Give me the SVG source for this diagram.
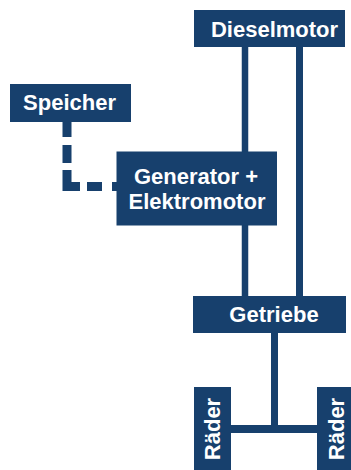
<svg xmlns="http://www.w3.org/2000/svg" width="351" height="470" viewBox="0 0 351 470">
  <style>
    .box { fill: #17406d; }
    .lbl { font-family: "Liberation Sans", Arial, sans-serif; font-weight: bold; font-size: 22px; fill: #ffffff; text-anchor: middle; }
    .shaft { stroke: #17406d; fill: none; stroke-linecap: butt; }
  </style>
  <rect width="351" height="470" fill="#ffffff"/>

  <!-- connectors -->
  <g id="connectors">
    <line class="shaft" x1="245" y1="46" x2="245" y2="297" stroke-width="6.5"/>
    <line class="shaft" x1="299.5" y1="46" x2="299.5" y2="297" stroke-width="7"/>
    <line class="shaft" x1="274.5" y1="332" x2="274.5" y2="433" stroke-width="7"/>
    <line class="shaft" x1="230" y1="429" x2="318" y2="429" stroke-width="8"/>
    <path class="shaft" d="M67,122 V186.5 H117" stroke-width="9" stroke-linejoin="miter"
          stroke-dasharray="15 8 18 7 29.5 7 15 10 5"/>
  </g>

  <g id="dieselmotor">
    <rect class="box" x="194" y="10" width="151" height="37"/>
    <text class="lbl" x="274.5" y="36.5">Dieselmotor</text>
  </g>

  <g id="speicher">
    <rect class="box" x="10" y="84" width="121" height="38"/>
    <text class="lbl" x="69.5" y="110">Speicher</text>
  </g>

  <g id="generator">
    <rect class="box" x="116.5" y="151.5" width="160.5" height="74"/>
    <text class="lbl" x="196" y="184">Generator +</text>
    <text class="lbl" x="197" y="209">Elektromotor</text>
  </g>

  <g id="getriebe">
    <rect class="box" x="193" y="296" width="153" height="37"/>
    <text class="lbl" x="274" y="322">Getriebe</text>
  </g>

  <g id="raeder-links">
    <rect class="box" x="194" y="387" width="37" height="83"/>
    <text class="lbl" transform="translate(220,429) rotate(-90)">Räder</text>
  </g>

  <g id="raeder-rechts">
    <rect class="box" x="317" y="387" width="37" height="83"/>
    <text class="lbl" transform="translate(344,429) rotate(-90)">Räder</text>
  </g>
</svg>
